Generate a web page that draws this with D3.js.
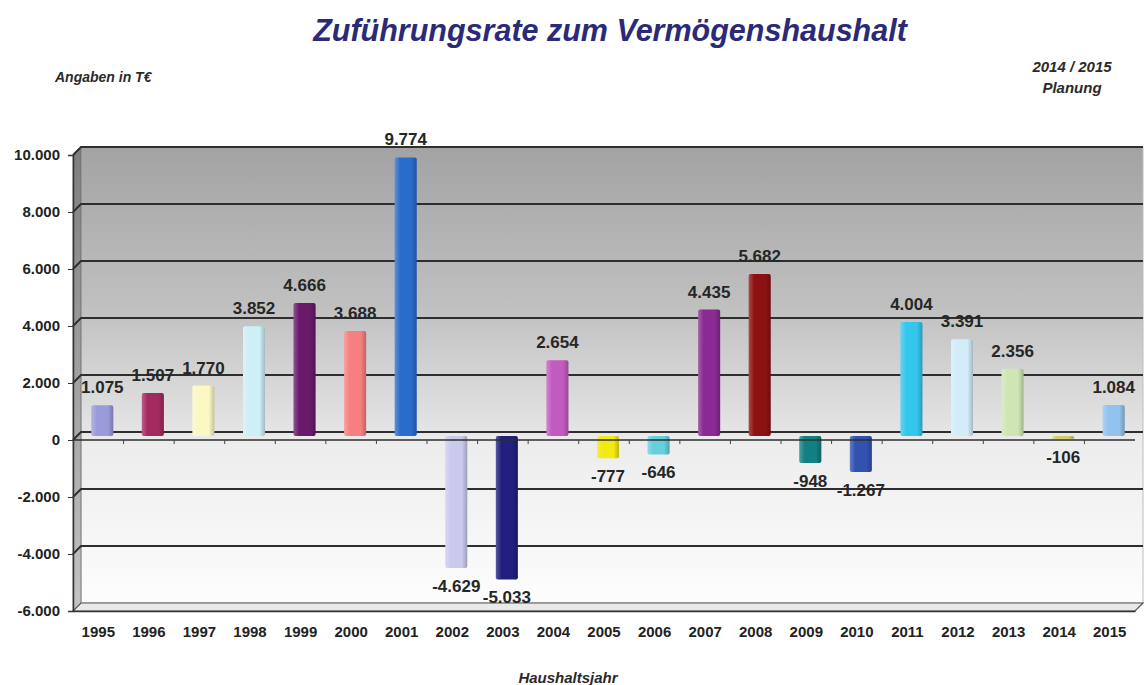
<!DOCTYPE html>
<html lang='de'>
  <head>
    <meta charset='utf-8'>
    <style type='text/css'>
      body {margin: 0; background-color: #fff;}
      #chart {width: 1147px; height: 685px;}
      text {font-family: 'Liberation Sans', Arial, sans-serif; font-weight: bold;}
    </style>
  </head>
  <body>
    <div id='chart'><svg width='1147' height='685'></svg></div>
    <script src='https://d3js.org/d3.v7.min.js'></script>
    <script type='text/javascript'>
        // Data (values in T€)
        var years  = ["1995","1996","1997","1998","1999","2000","2001","2002","2003","2004","2005",
                      "2006","2007","2008","2009","2010","2011","2012","2013","2014","2015"];
        var values = [1075, 1507, 1770, 3852, 4666, 3688, 9774, -4629, -5033, 2654, -777,
                      -646, 4435, 5682, -948, -1267, 4004, 3391, 2356, -106, 1084];
        var colors = ["#9b9bdc","#a32a60","#fbf8c4","#cdf0f6","#6a1a6a","#f77f7f","#2a6ccb","#cacaee",
                      "#20207e","#c25bbf","#f2ea10","#66cfdc","#8a2a92","#8c1212","#127f82","#3252b0",
                      "#35c6ee","#d3ecf8","#cfe6b4","#d4cc6c","#92c3ee"];
        var yTicks = [-6000, -4000, -2000, 0, 2000, 4000, 6000, 8000, 10000];

        var svg = d3.select("#chart svg");
        var de = d3.formatLocale({decimal: ",", thousands: ".", grouping: [3], currency: ["", " €"], minus: "-"});
        var fmt = de.format(",d");

        // 3D depth offset of the back wall
        var depth = 8;
        var x = d3.scaleBand().domain(years).range([73, 1135]).padding(0);
        var y = d3.scaleLinear().domain([-6000, 10000]).range([611, 155]);
        var x0 = x.range()[0], x1 = x.range()[1];
        var yTop = y(10000), yBot = y(-6000);

        var defs = svg.append("defs");
        var wall = defs.append("linearGradient").attr("id", "wall")
            .attr("x1", 0).attr("y1", 0).attr("x2", 0).attr("y2", 1);
        wall.append("stop").attr("offset", "0%").attr("stop-color", "#a3a3a3");
        wall.append("stop").attr("offset", "35%").attr("stop-color", "#c0c0c0");
        wall.append("stop").attr("offset", "62%").attr("stop-color", "#e4e4e4");
        wall.append("stop").attr("offset", "64%").attr("stop-color", "#ececec");
        wall.append("stop").attr("offset", "100%").attr("stop-color", "#fdfdfd");

        var side = defs.append("linearGradient").attr("id", "side")
            .attr("x1", 0).attr("y1", 0).attr("x2", 0).attr("y2", 1);
        side.append("stop").attr("offset", "0%").attr("stop-color", "#7e7e7e");
        side.append("stop").attr("offset", "100%").attr("stop-color", "#c4c4c4");

        var shade = defs.append("linearGradient").attr("id", "shade")
            .attr("x1", 0).attr("y1", 0).attr("x2", 1).attr("y2", 0);
        shade.append("stop").attr("offset", "0%").attr("stop-color", "#fff").attr("stop-opacity", 0.25);
        shade.append("stop").attr("offset", "25%").attr("stop-color", "#fff").attr("stop-opacity", 0.0);
        shade.append("stop").attr("offset", "75%").attr("stop-color", "#000").attr("stop-opacity", 0.0);
        shade.append("stop").attr("offset", "100%").attr("stop-color", "#000").attr("stop-opacity", 0.22);

        // back wall
        svg.append("rect")
            .attr("x", x0 + depth).attr("y", yTop - depth)
            .attr("width", x1 - x0).attr("height", yBot - yTop)
            .attr("fill", "url(#wall)").attr("stroke", "#bdbdbd").attr("stroke-width", 1);

        // side wall
        svg.append("path")
            .attr("d", "M" + x0 + "," + yTop + "L" + (x0 + depth) + "," + (yTop - depth) +
                       "L" + (x0 + depth) + "," + (yBot - depth) + "L" + x0 + "," + yBot + "Z")
            .attr("fill", "url(#side)").attr("stroke", "#6a6a6a").attr("stroke-width", 0.8);

        // floor
        svg.append("path")
            .attr("d", "M" + x0 + "," + yBot + "L" + (x0 + depth) + "," + (yBot - depth) +
                       "L" + (x1 + depth) + "," + (yBot - depth) + "L" + x1 + "," + yBot + "Z")
            .attr("fill", "#e9e9e9").attr("stroke", "#555").attr("stroke-width", 1.2);

        // gridlines on side and back wall
        svg.append("g").selectAll("path").data(yTicks.filter(function(t){ return t > -6000; }))
          .enter().append("path")
            .attr("d", function(t){
              return "M" + x0 + "," + y(t) + "L" + (x0 + depth) + "," + (y(t) - depth) +
                     "L" + (x1 + depth) + "," + (y(t) - depth);
            })
            .attr("fill", "none").attr("stroke", "#2e2e2e").attr("stroke-width", 1.8);

        // bars (sit half way between front and back)
        var bw = 22;
        var off = depth / 2;
        var bars = svg.append("g").selectAll("g").data(years).enter().append("g");
        function barX(d){ return x(d) + x.bandwidth() / 2 + off - bw / 2; }
        function barY(i){ return Math.min(y(values[i]), y(0)) - off; }
        function barH(i){ return Math.max(2, Math.abs(y(values[i]) - y(0))); }
        bars.append("rect")
            .attr("x", barX).attr("y", function(d, i){ return barY(i); })
            .attr("width", bw).attr("height", function(d, i){ return barH(i); })
            .attr("rx", 2).attr("fill", function(d, i){ return colors[i]; });
        bars.append("rect")
            .attr("x", barX).attr("y", function(d, i){ return barY(i); })
            .attr("width", bw).attr("height", function(d, i){ return barH(i); })
            .attr("rx", 2).attr("fill", "url(#shade)");

        // zero plane front edge
        svg.append("line")
            .attr("x1", x0).attr("x2", x1).attr("y1", y(0)).attr("y2", y(0))
            .attr("stroke", "#2e2e2e").attr("stroke-width", 1.6);
        svg.append("g").selectAll("line").data(years.slice(1)).enter().append("line")
            .attr("x1", function(d){ return x(d); }).attr("x2", function(d){ return x(d); })
            .attr("y1", y(0)).attr("y2", y(0) + 4)
            .attr("stroke", "#444").attr("stroke-width", 1);

        // value labels
        svg.append("g").selectAll("text").data(years).enter().append("text")
            .attr("x", function(d){ return x(d) + x.bandwidth() / 2 + off; })
            .attr("y", function(d, i){
              return values[i] >= 0 ? y(values[i]) - off - 18 : y(values[i]) - off + 18;
            })
            .attr("dy", "0.35em")
            .attr("text-anchor", "middle")
            .style("font-size", "17px").attr("fill", "#262626")
            .text(function(d, i){ return fmt(values[i]); });

        // y axis
        var yAxis = svg.append("g").attr("transform", "translate(" + x0 + ",0)")
            .call(d3.axisLeft(y).tickValues(yTicks).tickFormat(fmt).tickSize(5).tickPadding(8));
        yAxis.select(".domain").attr("stroke", "#333").attr("stroke-width", 1.5);
        yAxis.selectAll(".tick line").attr("stroke", "#333");
        yAxis.selectAll("text").style("font-size", "15px").style("font-family", "'Liberation Sans', Arial, sans-serif")
            .attr("font-weight", "bold").attr("fill", "#222");

        // x axis
        var xAxis = svg.append("g").attr("transform", "translate(0," + yBot + ")")
            .call(d3.axisBottom(x).tickSize(0).tickPadding(15));
        xAxis.select(".domain").attr("stroke", "#333").attr("stroke-width", 1.5);
        xAxis.selectAll("text").style("font-size", "15px").style("font-family", "'Liberation Sans', Arial, sans-serif")
            .attr("font-weight", "bold").attr("fill", "#222");

        // titles
        svg.append("text").attr("x", 610).attr("y", 41).attr("text-anchor", "middle")
            .style("font-size", "30.5px").style("font-style", "italic").attr("fill", "#2b2a78")
            .text("Zuführungsrate zum Vermögenshaushalt");
        svg.append("text").attr("x", 55).attr("y", 82)
            .style("font-size", "14px").style("font-style", "italic").attr("fill", "#2a2a2a")
            .text("Angaben in T€");
        svg.append("text").attr("x", 1072).attr("y", 72).attr("text-anchor", "middle")
            .style("font-size", "15px").style("font-style", "italic").attr("fill", "#2a2a2a")
            .text("2014 / 2015");
        svg.append("text").attr("x", 1072).attr("y", 93).attr("text-anchor", "middle")
            .style("font-size", "15px").style("font-style", "italic").attr("fill", "#2a2a2a")
            .text("Planung");
        svg.append("text").attr("x", 568).attr("y", 683).attr("text-anchor", "middle")
            .style("font-size", "15px").style("font-style", "italic").attr("fill", "#2a2a2a")
            .text("Haushaltsjahr");
    </script>
  </body>
</html>
